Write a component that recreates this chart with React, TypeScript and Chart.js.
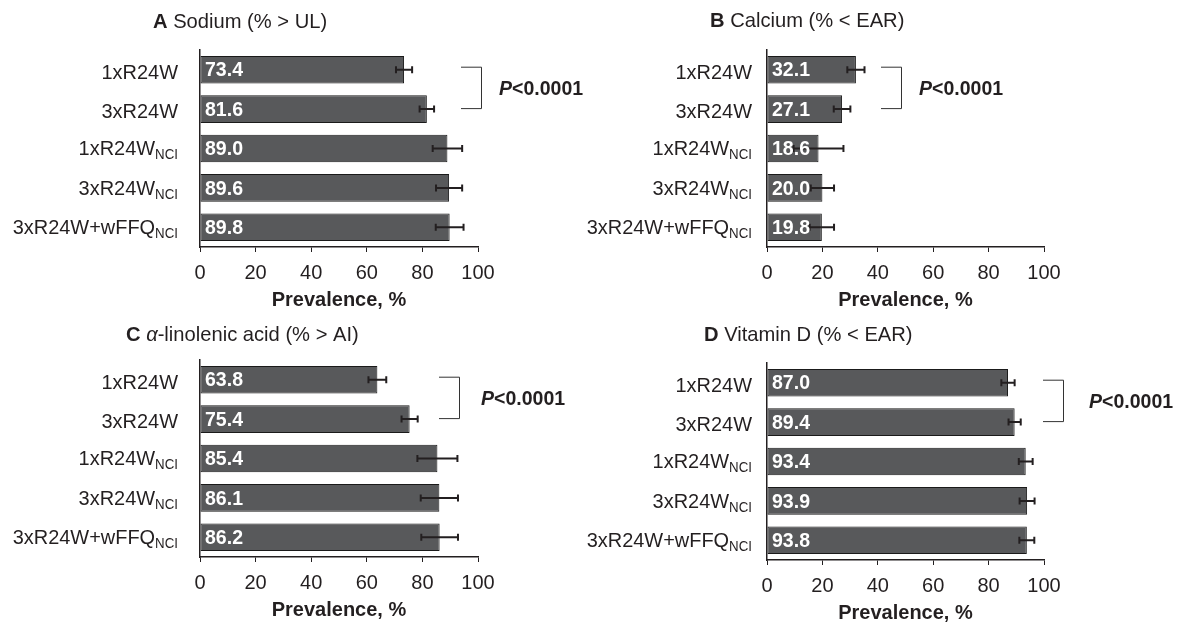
import React, { useEffect, useRef } from 'react';
import { Chart, registerables } from 'chart.js';

Chart.register(...registerables);

// ---------- data ----------
const categoryBase = ['1xR24W', '3xR24W', '1xR24W', '3xR24W', '3xR24W+wFFQ'];
const categorySub = ['', '', 'NCI', 'NCI', 'NCI'];

const sodiumValues = [73.4, 81.6, 89.0, 89.6, 89.8];
const sodiumErrors = [2.9, 2.6, 5.3, 4.7, 5.0];

const calciumValues = [32.1, 27.1, 18.6, 20.0, 19.8];
const calciumErrors = [3.1, 3.0, 9.0, 4.2, 4.4];

const alaValues = [63.8, 75.4, 85.4, 86.1, 86.2];
const alaErrors = [3.2, 2.9, 7.2, 6.7, 6.6];

const vitDValues = [87.0, 89.4, 93.4, 93.9, 93.8];
const vitDErrors = [2.4, 2.2, 2.5, 2.7, 2.7];

const xMin = 0;
const xMax = 100;
const xStep = 20;
const axisTitle = 'Prevalence, %';
const pValueText = ['P', '<0.0001'];

// title pieces: [text, style]
const titleA = [['A', 'bold'], [' Sodium (% > UL)', 'normal']];
const titleB = [['B', 'bold'], [' Calcium (% < EAR)', 'normal']];
const titleC = [['C', 'bold'], [' ', 'normal'], ['\u03B1', 'italic'], ['-linolenic acid (% > AI)', 'normal']];
const titleD = [['D', 'bold'], [' Vitamin D (% < EAR)', 'normal']];

const FONT = '"Liberation Sans", Arial, Helvetica, sans-serif';
const INK = '#231f20';
const BAR = '#58595b';

type PanelCfg = {
  values: number[];
  errors: number[];
  title: string[][];
  left: number; top: number; w: number; h: number;
  padL: number; padR: number; padT: number; xH: number; titlePadB: number;
  labelRight: number;
  titleX: number; titleY: number;
  bracketX: number; pX: number;
};

const panels: PanelCfg[] = [
  { values: sodiumValues, errors: sodiumErrors, title: titleA, left: 0, top: 0, w: 600, h: 310,
    padL: 200, padR: 122, padT: 50, xH: 63, titlePadB: 0, labelRight: 178, titleX: 153, titleY: 22,
    bracketX: 461, pX: 499 },
  { values: calciumValues, errors: calciumErrors, title: titleB, left: 580, top: 0, w: 599, h: 310,
    padL: 187, padR: 135, padT: 50, xH: 63, titlePadB: 0, labelRight: 172, titleX: 130, titleY: 21,
    bracketX: 301, pX: 339 },
  { values: alaValues, errors: alaErrors, title: titleC, left: 0, top: 310, w: 600, h: 313,
    padL: 200, padR: 122, padT: 50, xH: 66, titlePadB: 3, labelRight: 178, titleX: 126, titleY: 25,
    bracketX: 439, pX: 481 },
  { values: vitDValues, errors: vitDErrors, title: titleD, left: 580, top: 310, w: 599, h: 313,
    padL: 187, padR: 135, padT: 53, xH: 63, titlePadB: 0, labelRight: 172, titleX: 124, titleY: 25,
    bracketX: 463, pX: 509 },
];

function fontStr(style: string, size: number) {
  if (style === 'bold') return `bold ${size}px ${FONT}`;
  if (style === 'italic') return `italic ${size}px ${FONT}`;
  if (style === 'bolditalic') return `italic bold ${size}px ${FONT}`;
  return `${size}px ${FONT}`;
}

// draw text horizontally condensed by sx; returns drawn width
function drawText(ctx: CanvasRenderingContext2D, text: string, x: number, y: number, font: string, align: 'left' | 'right', sx: number) {
  ctx.font = font;
  const w = ctx.measureText(text).width * sx;
  const startX = align === 'right' ? x - w : x;
  ctx.save();
  ctx.translate(startX, y);
  ctx.scale(sx, 1);
  ctx.textAlign = 'left';
  ctx.fillText(text, 0, 0);
  ctx.restore();
  return w;
}

function Panel({ cfg }: { cfg: PanelCfg }) {
  const ref = useRef<HTMLCanvasElement>(null);
  useEffect(() => {
    const canvas = ref.current;
    if (!canvas) return;
    const overlay = {
      id: 'overlay',
      afterDatasetsDraw(chart: any) {
        const ctx = chart.ctx as CanvasRenderingContext2D;
        const xs = chart.scales.x;
        const meta = chart.getDatasetMeta(0);
        const area = chart.chartArea;
        ctx.save();
        // error bars
        ctx.strokeStyle = INK;
        ctx.lineWidth = 2;
        meta.data.forEach((bar: any, i: number) => {
          const v = cfg.values[i];
          const e = cfg.errors[i];
          const x1 = xs.getPixelForValue(v - e);
          const x2 = xs.getPixelForValue(v + e);
          const y = bar.y;
          ctx.beginPath();
          ctx.moveTo(x1, y); ctx.lineTo(x2, y);
          ctx.moveTo(x1, y - 3.5); ctx.lineTo(x1, y + 3.5);
          ctx.moveTo(x2, y - 3.5); ctx.lineTo(x2, y + 3.5);
          ctx.stroke();
        });
        // value labels
        ctx.fillStyle = '#ffffff';
        ctx.textBaseline = 'middle';
        meta.data.forEach((bar: any, i: number) => {
          drawText(ctx, cfg.values[i].toFixed(1), area.left + 5, bar.y + 1, fontStr('bold', 21), 'left', 0.93);
        });
        // category labels
        ctx.fillStyle = INK;
        ctx.textBaseline = 'middle';
        meta.data.forEach((bar: any, i: number) => {
          const sub = categorySub[i];
          let right = cfg.labelRight;
          if (sub) {
            const sw = drawText(ctx, sub, right, bar.y + 7, fontStr('normal', 14), 'right', 0.95);
            right -= sw;
            drawText(ctx, categoryBase[i], right, bar.y + 1, fontStr('normal', 21), 'right', 0.95);
          } else {
            drawText(ctx, categoryBase[i], right, bar.y + 3.5, fontStr('normal', 21), 'right', 0.95);
          }
        });
        // bracket
        const c1 = meta.data[0].y;
        const c2 = meta.data[1].y;
        const bt = c1 - 3;
        const bb = c2 - 1;
        ctx.strokeStyle = '#333333';
        ctx.lineWidth = 1;
        ctx.beginPath();
        ctx.moveTo(cfg.bracketX, bt + 0.5);
        ctx.lineTo(cfg.bracketX + 20.5, bt + 0.5);
        ctx.lineTo(cfg.bracketX + 20.5, bb + 0.5);
        ctx.lineTo(cfg.bracketX, bb + 0.5);
        ctx.stroke();
        // p value
        ctx.fillStyle = INK;
        ctx.textBaseline = 'middle';
        const py = (bt + bb) / 2 + 2;
        const pw = drawText(ctx, pValueText[0], cfg.pX, py, fontStr('bolditalic', 21), 'left', 0.93);
        drawText(ctx, pValueText[1], cfg.pX + pw, py, fontStr('bold', 21), 'left', 0.93);
        // title
        let tx = cfg.titleX;
        cfg.title.forEach(([t, s]) => {
          tx += drawText(ctx, t, tx, cfg.titleY, fontStr(s, 21), 'left', 0.96);
        });
        ctx.restore();
      },
    };

    const chart = new Chart(canvas, {
      type: 'bar',
      data: {
        labels: categoryBase.map((b, i) => b + categorySub[i]),
        datasets: [{
          data: cfg.values,
          backgroundColor: BAR,
          borderColor: '#1a1a1a',
          borderWidth: 1,
          borderSkipped: false,
          barPercentage: 0.7,
          categoryPercentage: 1,
        }],
      },
      options: {
        indexAxis: 'y',
        animation: false,
        responsive: false,
        maintainAspectRatio: false,
        devicePixelRatio: 1,
        layout: { padding: { left: cfg.padL, right: cfg.padR, top: cfg.padT, bottom: 0 } },
        plugins: { legend: { display: false }, tooltip: { enabled: false }, title: { display: false } },
        scales: {
          x: {
            type: 'linear',
            min: xMin, max: xMax,
            ticks: { stepSize: xStep, color: INK, font: { family: FONT, size: 20 }, padding: 9, maxRotation: 0 },
            grid: { display: true, drawOnChartArea: false, drawTicks: true, tickLength: 5, color: INK, lineWidth: 1 },
            border: { display: true, color: INK, width: 1.5 },
            title: { display: true, text: axisTitle, color: INK, font: { family: FONT, size: 20, weight: 'bold', lineHeight: 1 }, padding: { top: 0, bottom: cfg.titlePadB } },
            afterFit: (s: any) => { s.height = cfg.xH; },
          },
          y: {
            type: 'category',
            ticks: { display: false },
            grid: { display: false },
            border: { display: true, color: INK, width: 1.5 },
            afterFit: (s: any) => { s.width = 0; },
          },
        },
      } as any,
      plugins: [overlay],
    });
    return () => chart.destroy();
  }, [cfg]);
  return (
    <canvas
      ref={ref}
      width={cfg.w}
      height={cfg.h}
      style={{ position: 'absolute', left: cfg.left, top: cfg.top, width: cfg.w, height: cfg.h }}
    />
  );
}

export default function App() {
  return (
    <div style={{ position: 'absolute', left: 0, top: 0, width: 1179, height: 623, background: '#ffffff', overflow: 'hidden' }}>
      {panels.map((p, i) => <Panel key={i} cfg={p} />)}
    </div>
  );
}
